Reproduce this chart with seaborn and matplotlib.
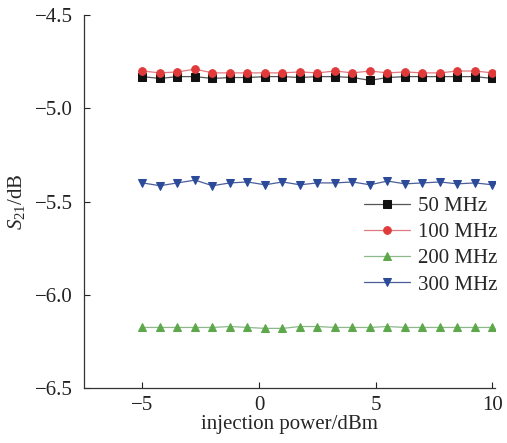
import numpy as np
import pandas as pd
import matplotlib
matplotlib.use('Agg')
import matplotlib.pyplot as plt
import seaborn as sns

# injection power (dBm), 21 points from -5 to 10
power = [-5.0, -4.25, -3.5, -2.75, -2.0, -1.25, -0.5, 0.25, 1.0, 1.75, 2.5,
         3.25, 4.0, 4.75, 5.5, 6.25, 7.0, 7.75, 8.5, 9.25, 10.0]

s21_50 = [-4.83, -4.84, -4.83, -4.83, -4.84, -4.835, -4.835, -4.83, -4.83, -4.835, -4.83,
          -4.83, -4.835, -4.85, -4.835, -4.83, -4.83, -4.83, -4.83, -4.83, -4.84]
s21_100 = [-4.80, -4.81, -4.805, -4.79, -4.81, -4.81, -4.81, -4.81, -4.81, -4.805, -4.81,
           -4.80, -4.81, -4.80, -4.81, -4.805, -4.81, -4.81, -4.80, -4.80, -4.81]
s21_200 = [-6.175, -6.175, -6.175, -6.175, -6.175, -6.17, -6.175, -6.18, -6.18, -6.17, -6.17,
           -6.175, -6.175, -6.175, -6.17, -6.175, -6.175, -6.175, -6.175, -6.175, -6.175]
s21_300 = [-5.40, -5.415, -5.40, -5.385, -5.415, -5.40, -5.395, -5.41, -5.395, -5.41, -5.40,
           -5.40, -5.395, -5.41, -5.39, -5.405, -5.40, -5.395, -5.405, -5.40, -5.41]

labels = ['50 MHz', '100 MHz', '200 MHz', '300 MHz']
series = [s21_50, s21_100, s21_200, s21_300]
marker_colors = ['#111111', '#e03a3a', '#5ea84c', '#2c4a9a']
line_colors = ['#555555', '#e07a80', '#8cb88a', '#4a5f9a']
markers = ['s', 'o', '^', 'v']

sns.set_style('ticks')
plt.rcParams['font.family'] = ['Liberation Serif', 'DejaVu Serif']
plt.rcParams['mathtext.fontset'] = 'custom'
plt.rcParams['mathtext.rm'] = 'Liberation Serif'
plt.rcParams['mathtext.it'] = 'Liberation Serif:italic'
plt.rcParams['axes.unicode_minus'] = True

fs = 15

fig = plt.figure(figsize=(5.07, 4.43), dpi=100)
ax = fig.add_axes([0.166, 0.124, 0.81, 0.842])

for lab, vals, mc, lc, mk in zip(labels, series, marker_colors, line_colors, markers):
    df = pd.DataFrame({'power': power, 's21': vals})
    sns.lineplot(data=df, x='power', y='s21', ax=ax, color=lc, linewidth=0.9,
                 marker=mk, markersize=5.5, markerfacecolor=mc, markeredgecolor=mc,
                 label=lab)

ax.set_xlim(-7.5, 10.1)
ax.set_ylim(-6.5, -4.5)
ax.set_xticks([-5, 0, 5, 10])
ax.set_yticks([-6.5, -6.0, -5.5, -5.0, -4.5])
ax.set_yticklabels(['\u22126.5', '\u22126.0', '\u22125.5', '\u22125.0', '\u22124.5'])
ax.set_xticklabels(['\u22125', '0', '5', '10'])
ax.tick_params(direction='in', length=4, width=0.8, labelsize=fs, colors='#222222',
               labelcolor='#222222')
ax.tick_params(axis='x', pad=6)
ax.tick_params(axis='y', pad=8)
ax.set_xlabel('injection power/dBm', fontsize=fs, labelpad=0)
ax.set_ylabel(r'$S_{21}$/dB', fontsize=fs, labelpad=6)
sns.despine(ax=ax)
for sp in ['left', 'bottom']:
    ax.spines[sp].set_color('#333333')
    ax.spines[sp].set_linewidth(0.9)

ax.legend(loc='upper left', bbox_to_anchor=(0.718, 0.557), bbox_transform=fig.transFigure,
          frameon=False, fontsize=fs, handlelength=2.2, handletextpad=0.4,
          labelspacing=0.32, borderpad=0, borderaxespad=0)

fig.savefig('out.png', dpi=100)
